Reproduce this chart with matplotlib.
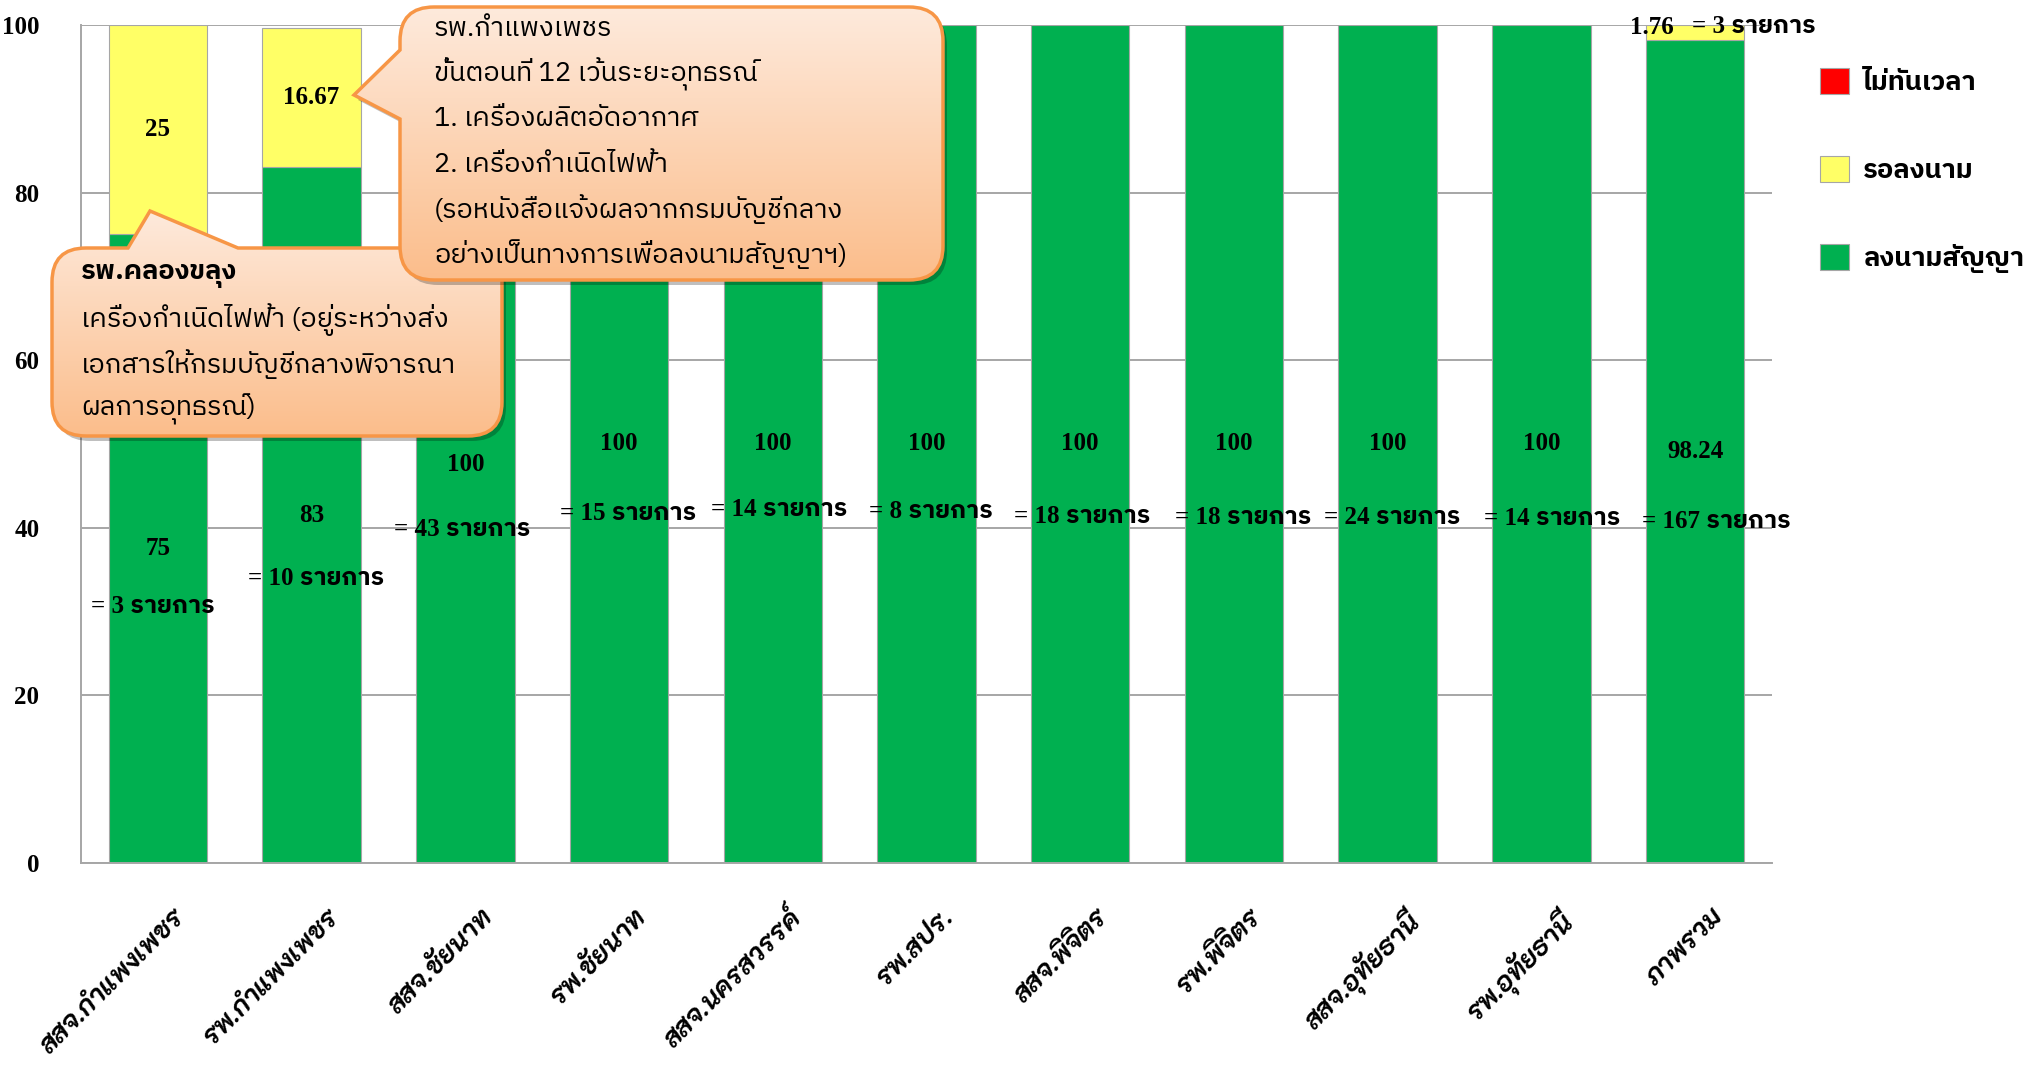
import matplotlib
matplotlib.use("Agg")
import numpy as np
import matplotlib.pyplot as plt
from matplotlib.path import Path
from matplotlib.patches import PathPatch, Patch
from matplotlib.colors import LinearSegmentedColormap
from matplotlib import transforms

# ---- data -------------------------------------------------------------
CATEGORIES = [
    "สสจ.กำแพงเพชร", "รพ.กำแพงเพชร", "สสจ.ชัยนาท", "รพ.ชัยนาท",
    "สสจ.นครสวรรค์", "รพ.สปร.", "สสจ.พิจิตร", "รพ.พิจิตร",
    "สสจ.อุทัยธานี", "รพ.อุทัยธานี", "ภาพรวม",
]
SIGNED = [75, 83, 100, 100, 100, 100, 100, 100, 100, 100, 98.24]
PENDING = [25, 16.67, 0, 0, 0, 0, 0, 0, 0, 0, 1.76]
LATE = [0, 0, 0, 0, 0, 0, 0, 0, 0, 0, 0]
ITEM_COUNTS = [3, 10, 43, 15, 14, 8, 18, 18, 24, 14, 167]
PENDING_TOTAL_COUNT = 3
SERIES_NAMES = ["ไม่ทันเวลา", "รอลงนาม", "ลงนามสัญญา"]
YTICKS = [0, 20, 40, 60, 80, 100]

CALLOUT_KPP = [
    "รพ.กำแพงเพชร",
    "ขั้นตอนที่ 12 เว้นระยะอุทธรณ์",
    "1. เครื่องผลิตอัดอากาศ",
    "2. เครื่องกำเนิดไฟฟ้า",
    "(รอหนังสือแจ้งผลจากกรมบัญชีกลาง",
    "อย่างเป็นทางการเพื่อลงนามสัญญาฯ)",
]
CALLOUT_KL = [
    "รพ.คลองขลุง",
    "เครื่องกำเนิดไฟฟ้า (อยู่ระหว่างส่ง",
    "เอกสารให้กรมบัญชีกลางพิจารณา",
    "ผลการอุทธรณ์)",
]

# ---- style / placement -------------------------------------------------
GREEN = "#00B050"
YELLOW = "#FFFF66"
RED = "#FF0000"
GRID = "#A6A6A6"
W, H, DPI = 2039, 1067, 100
NUM_FONT = ["Liberation Serif", "IBM Plex Sans Thai"]
THAI_FONT = ["IBM Plex Sans Thai", "DejaVu Sans"]
TICK_FONT = ["K2D", "DejaVu Sans"]

# hand-placed "= n รายการ" boxes (x offset from bar, y in data units)
COUNT_DX = [-0.03, 0.03, -0.02, 0.06, 0.04, 0.03, 0.01, 0.06, 0.03, 0.07, 0.14]
COUNT_Y = [30.6, 33.9, 39.8, 41.7, 42.2, 42.0, 41.4, 41.2, 41.2, 41.1, 40.8]
# nudges of the green value labels away from the segment centre
VALUE_DY = [0, 0, -2.4, 0, 0, 0, 0, 0, 0, 0, 0]

fig = plt.figure(figsize=(W / DPI, H / DPI), dpi=DPI)
ax = fig.add_axes([81 / W, 1 - 863 / H, (1772 - 81) / W, (863 - 25) / H])

x = np.arange(len(CATEGORIES))
bw = 0.64
signed = np.array(SIGNED, dtype=float)
pending = np.array(PENDING, dtype=float)
late = np.array(LATE, dtype=float)

ax.bar(x, signed, bw, color=GREEN, edgecolor=GRID, linewidth=0.8, zorder=2)
ax.bar(x, pending, bw, bottom=signed, color=YELLOW, edgecolor=GRID,
       linewidth=np.where(pending > 0, 0.8, 0), zorder=2)
ax.bar(x, late, bw, bottom=signed + pending, color=RED, linewidth=0, zorder=2)

ax.set_xlim(-0.5, len(CATEGORIES) - 0.5)
ax.set_ylim(0, 100)
ax.set_yticks(YTICKS)
ax.yaxis.grid(True, color=GRID, linewidth=1.4, zorder=0)
ax.set_axisbelow(True)
for side in ("top", "right"):
    ax.spines[side].set_visible(False)
for side in ("left", "bottom"):
    ax.spines[side].set_color(GRID)
    ax.spines[side].set_linewidth(1.4)
ax.tick_params(axis="both", length=0)
ax.tick_params(axis="y", pad=30)
for t in ax.get_yticklabels():
    t.set_fontfamily("Liberation Serif")
    t.set_fontweight("bold")
    t.set_fontsize(18)

ax.set_xticks(x)
ax.set_xticklabels(CATEGORIES, rotation=45, ha="right", va="top",
                   rotation_mode="anchor", fontsize=19.5, fontstyle="italic",
                   fontweight="bold", family=TICK_FONT)
ax.tick_params(axis="x", pad=30)
for t in ax.get_xticklabels():
    t.set_transform(t.get_transform() +
                    transforms.ScaledTranslation(0.15, 0, fig.dpi_scale_trans))

# value labels in the middle of each segment
for i in range(len(x)):
    ax.text(x[i], signed[i] / 2 + VALUE_DY[i], f"{signed[i]:g}", ha="center",
            va="center", family=NUM_FONT, fontweight="bold", fontsize=18,
            zorder=4)
    if pending[i] > 5:
        ax.text(x[i], signed[i] + pending[i] / 2, f"{pending[i]:g}",
                ha="center", va="center", family=NUM_FONT,
                fontweight="bold", fontsize=18, zorder=4)
    ax.text(x[i] + COUNT_DX[i], COUNT_Y[i], f"= {ITEM_COUNTS[i]} รายการ",
            ha="center", va="center", family=NUM_FONT, fontweight="bold",
            fontsize=18, zorder=4)

# small pending slice of the overall bar is labelled above it
last = len(x) - 1
ax.text(x[last] - 0.28, 99.7, f"{pending[last]:g}", ha="center", va="center",
        family=NUM_FONT, fontweight="bold", fontsize=18, zorder=4)
ax.text(x[last] + 0.38, 99.8, f"= {PENDING_TOTAL_COUNT} รายการ", ha="center",
        va="center", family=NUM_FONT, fontweight="bold", fontsize=18, zorder=4)

# legend
handles = [Patch(facecolor=c, edgecolor=GRID, linewidth=0.8)
           for c in (RED, YELLOW, GREEN)]
ax.legend(handles, SERIES_NAMES, loc="upper left",
          bbox_to_anchor=(1820 / W, 999 / H), bbox_transform=fig.transFigure,
          frameon=False, borderpad=0, borderaxespad=0, handlelength=1.08,
          handleheight=1.12, handletextpad=0.5, labelspacing=2.2,
          prop={"family": THAI_FONT, "size": 19.5, "weight": "bold"})

# ---- callouts (overlay in figure pixels) -------------------------------
ov = fig.add_axes([0, 0, 1, 1], zorder=10)
ov.axis("off")
ov.patch.set_alpha(0)

grad_cmap = LinearSegmentedColormap.from_list("callout", ["#FBBD8B", "#FEEADC"])


def callout_path(x0, y0, x1, y1, r, side, base, tip):
    M, L, C, Z = Path.MOVETO, Path.LINETO, Path.CURVE3, Path.CLOSEPOLY
    verts = [(x0 + r, y0), (x1 - r, y0), (x1, y0), (x1, y0 + r),
             (x1, y1 - r), (x1, y1), (x1 - r, y1)]
    codes = [M, L, C, C, L, C, C]
    if side == "top":
        verts += [(base[1], y1), tip, (base[0], y1)]
        codes += [L, L, L]
    verts += [(x0 + r, y1), (x0, y1), (x0, y1 - r)]
    codes += [L, C, C]
    if side == "left":
        verts += [(x0, base[1]), tip, (x0, base[0])]
        codes += [L, L, L]
    verts += [(x0, y0 + r), (x0, y0), (x0 + r, y0), (x0 + r, y0)]
    codes += [L, C, C, Z]
    return Path(verts, codes)


def draw_callout(box, side, base, tip, lines, tx, ty0, dy, z, bold_first):
    x0, y0, x1, y1 = box
    p = callout_path(x0, y0, x1, y1, 34, side, base, tip)
    shadow = PathPatch(p, facecolor="#000000", alpha=0.25, edgecolor="none",
                       zorder=z)
    shadow.set_transform(transforms.Affine2D().translate(4, -5) + ov.transData)
    ov.add_patch(shadow)
    body = PathPatch(p, facecolor="none", edgecolor="none", zorder=z + 0.1)
    ov.add_patch(body)
    grad = np.linspace(0, 1, 256).reshape(-1, 1)
    im = ov.imshow(grad, cmap=grad_cmap, origin="lower", aspect="auto",
                   extent=[min(x0, tip[0]), x1, min(y0, tip[1]),
                           max(y1, tip[1])], zorder=z + 0.2)
    im.set_clip_path(body)
    ov.add_patch(PathPatch(p, facecolor="none", edgecolor="#F79646",
                           linewidth=2.5, zorder=z + 0.3))
    for k, line in enumerate(lines):
        ov.text(tx, ty0 - k * dy, line, ha="left", va="center",
                family=THAI_FONT, fontsize=19.5,
                fontweight="bold" if (k == 0 and bold_first) else "normal",
                zorder=z + 0.4)


draw_callout((52, 631, 502, 819), "top", (128, 238), (150, 856), CALLOUT_KL,
             81, 792, 44.7, 1, True)
draw_callout((400, 787, 943, 1060), "left", (948, 1017), (354, 972),
             CALLOUT_KPP, 434, 1038, 45.0, 2, False)
ov.set_xlim(0, W)
ov.set_ylim(0, H)

fig.savefig("out.png", dpi=DPI)
